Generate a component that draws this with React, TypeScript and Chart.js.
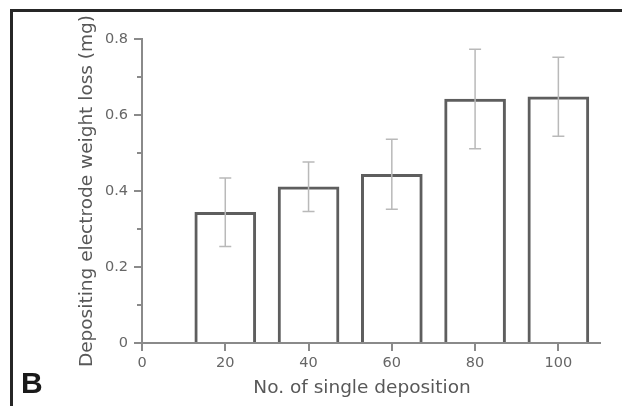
import React, { useEffect, useRef } from "react";
import { Chart, registerables } from "chart.js";

Chart.register(...registerables);

// ---- data ----
const depositionCounts = [20, 40, 60, 80, 100];
const meanWeightLoss = [0.344, 0.411, 0.444, 0.642, 0.648];
const stdDev = [0.09, 0.065, 0.092, 0.131, 0.104];
const yMinorTicks = [0.1, 0.3, 0.5, 0.7];
const xAxisTitle = "No. of single deposition";
const yAxisTitle = "Depositing electrode weight loss (mg)";
const panelLabel = "B";

const AXIS_COLOR = "#8a8a8a";
const TEXT_COLOR = "#666666";
const TITLE_COLOR = "#585858";
const FONT = "'DejaVu Sans', sans-serif";

const errorBarPlugin = {
  id: "errorBars",
  beforeDraw(chart: any) {
    const { ctx } = chart;
    ctx.save();
    ctx.fillStyle = "#ffffff";
    ctx.fillRect(0, 0, chart.width, chart.height);
    // figure frame (left and top edges only)
    ctx.fillStyle = "#262626";
    ctx.fillRect(10, 9, 3, chart.height - 9);
    ctx.fillRect(10, 9, chart.width - 10, 3);
    ctx.restore();
  },
  afterDatasetsDraw(chart: any) {
    const { ctx, scales } = chart;
    const xs = scales.x;
    const ys = scales.y;
    ctx.save();
    ctx.strokeStyle = "#b9b9b9";
    ctx.lineWidth = 1.5;
    depositionCounts.forEach((c, i) => {
      const x = xs.getPixelForValue(c);
      const yTop = ys.getPixelForValue(meanWeightLoss[i] + stdDev[i]);
      const yBot = ys.getPixelForValue(meanWeightLoss[i] - stdDev[i]);
      ctx.beginPath();
      ctx.moveTo(x, yTop);
      ctx.lineTo(x, yBot);
      ctx.moveTo(x - 6, yTop);
      ctx.lineTo(x + 6, yTop);
      ctx.moveTo(x - 6, yBot);
      ctx.lineTo(x + 6, yBot);
      ctx.stroke();
    });
    ctx.restore();
  },
  afterDraw(chart: any) {
    const { ctx, scales } = chart;
    const ys = scales.y;
    const left = chart.chartArea.left;
    ctx.save();
    ctx.strokeStyle = AXIS_COLOR;
    ctx.lineWidth = 2;
    yMinorTicks.forEach((v) => {
      const y = ys.getPixelForValue(v);
      ctx.beginPath();
      ctx.moveTo(left - 5, y);
      ctx.lineTo(left, y);
      ctx.stroke();
    });
    // x-axis title, centred under the labelled part of the axis
    ctx.fillStyle = TITLE_COLOR;
    ctx.font = `18.5px ${FONT}`;
    ctx.textAlign = "center";
    ctx.textBaseline = "middle";
    ctx.fillText(xAxisTitle, 362, 388);
    ctx.restore();
  },
};

export default function App() {
  const canvasRef = useRef<HTMLCanvasElement>(null);

  useEffect(() => {
    if (!canvasRef.current) return;
    const chart = new Chart(canvasRef.current, {
      type: "bar",
      data: {
        datasets: [
          {
            data: depositionCounts.map((c, i) => ({ x: c, y: meanWeightLoss[i] })),
            backgroundColor: "#ffffff",
            borderColor: "#5e5e5e",
            borderWidth: 3,
            barThickness: 61,
          },
        ],
      },
      options: {
        responsive: false,
        animation: false,
        devicePixelRatio: 1,
        layout: { padding: { top: 39, right: 22, left: 0, bottom: 0 } },
        plugins: {
          legend: { display: false },
          tooltip: { enabled: false },
        },
        scales: {
          x: {
            type: "linear",
            min: 0,
            max: 110,
            offset: false,
            ticks: {
              stepSize: 20,
              includeBounds: false,
              color: TEXT_COLOR,
              font: { family: FONT, size: 14.5 },
              padding: 4,
              maxRotation: 0,
            },
            grid: {
              offset: false,
              drawOnChartArea: false,
              drawTicks: true,
              tickLength: 8,
              color: AXIS_COLOR,
              lineWidth: 2,
            },
            border: { display: true, color: AXIS_COLOR, width: 2 },
            title: { display: false },
            afterBuildTicks: (scale: any) => {
              scale.ticks = scale.ticks.filter((t: any) => t.value % 20 === 0);
            },
            afterFit: (scale: any) => {
              scale.height = 63;
            },
          } as any,
          y: {
            type: "linear",
            min: 0,
            max: 0.8,
            ticks: {
              stepSize: 0.2,
              color: TEXT_COLOR,
              font: { family: FONT, size: 14.5 },
              padding: 6,
            },
            grid: {
              drawOnChartArea: false,
              drawTicks: true,
              tickLength: 8,
              color: AXIS_COLOR,
              lineWidth: 2,
            },
            border: { display: true, color: AXIS_COLOR, width: 2 },
            title: {
              display: true,
              text: yAxisTitle,
              color: TITLE_COLOR,
              font: { family: FONT, size: 18.5 },
              padding: { top: 76, bottom: 0 },
            },
            afterFit: (scale: any) => {
              scale.width = 142;
            },
          } as any,
        },
      },
      plugins: [errorBarPlugin],
    });
    return () => chart.destroy();
  }, []);

  return (
    <div
      style={{
        position: "absolute",
        left: 0,
        top: 0,
        width: 622,
        height: 406,
        background: "#ffffff",
        overflow: "hidden",
      }}
    >
      <canvas
        ref={canvasRef}
        width={622}
        height={406}
        style={{ position: "absolute", left: 0, top: 0, width: 622, height: 406 }}
      />
      <div
        style={{
          position: "absolute",
          left: 21,
          top: 368,
          font: "bold 30px 'Liberation Sans', Arial, sans-serif",
          lineHeight: "30px",
          color: "#1a1a1a",
        }}
      >
        {panelLabel}
      </div>
    </div>
  );
}
